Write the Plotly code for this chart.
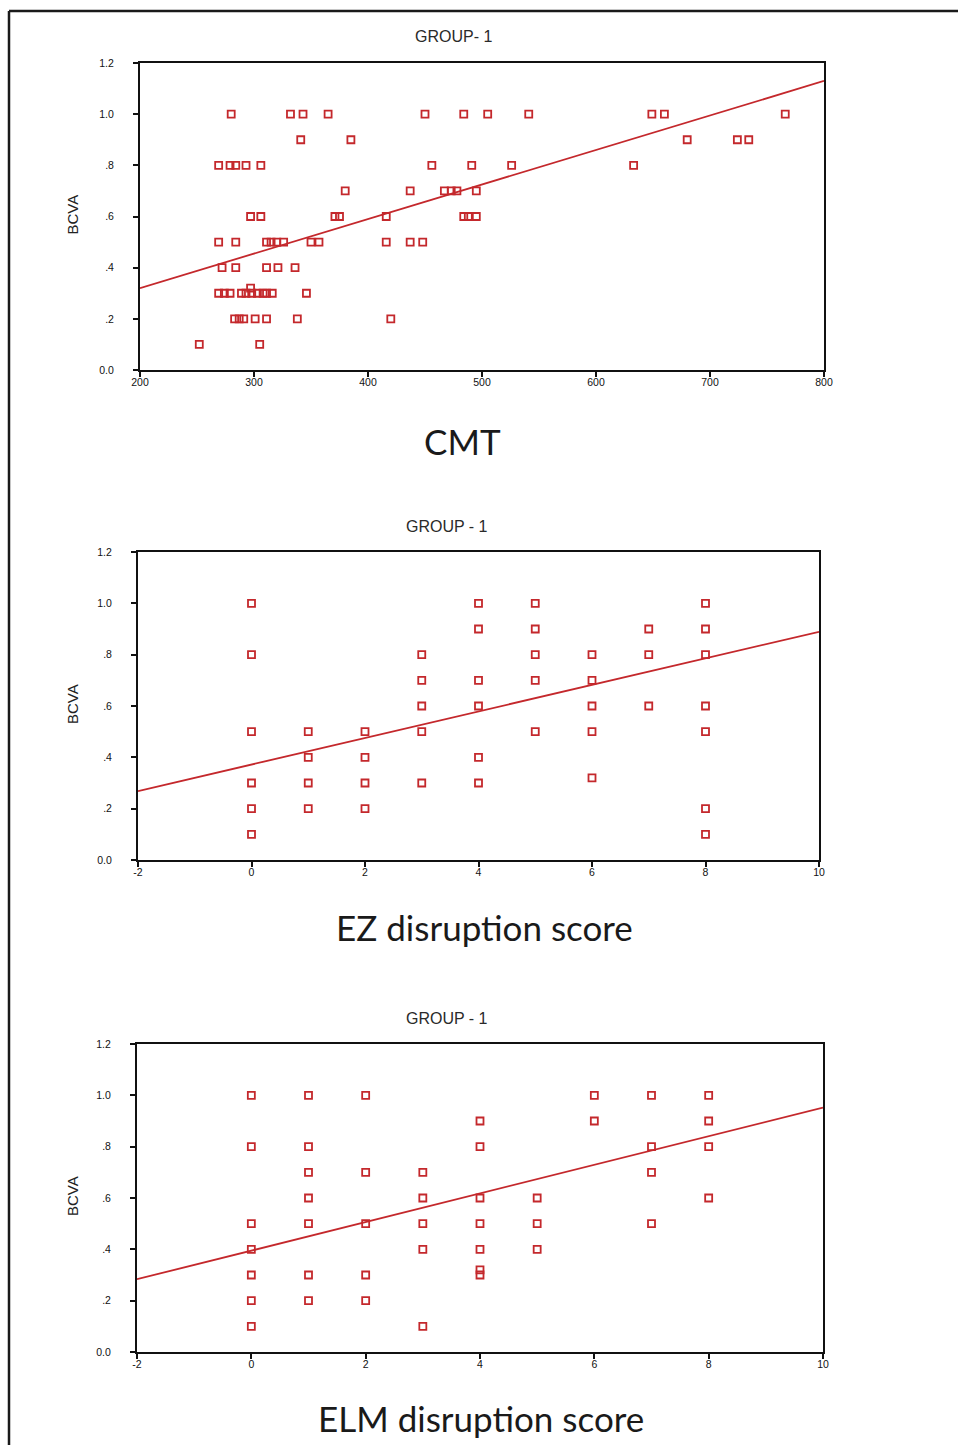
import plotly.graph_objects as go

# ---------------- data ----------------
# Panel 1: CMT vs BCVA
cmt_x = [280, 332, 343, 365, 450, 484, 505, 541, 649, 660, 766,
         341, 385, 680, 724, 734,
         269, 279, 284, 293, 306, 456, 491, 526, 633,
         380, 437, 467, 473, 478, 495,
         297, 306, 371, 375, 416, 484, 488, 495,
         269, 284, 311, 315, 320, 326, 350, 357, 416, 437, 448,
         272, 284, 311, 321, 336,
         297,
         269, 274, 279, 289, 293, 298, 303, 308, 311, 316, 346,
         283, 287, 291, 301, 311, 338, 420,
         252, 305]
cmt_y = [1.0] * 11 + [0.9] * 5 + [0.8] * 9 + [0.7] * 6 + [0.6] * 8 + \
        [0.5] * 11 + [0.4] * 5 + [0.32] + [0.3] * 11 + [0.2] * 7 + [0.1] * 2

# Panel 2: EZ disruption score vs BCVA
ez_x = [0] * 6 + [1] * 4 + [2] * 4 + [3] * 5 + [4] * 6 + [5] * 5 + [6] * 5 + [7] * 3 + [8] * 7
ez_y = [1.0, 0.8, 0.5, 0.3, 0.2, 0.1,
        0.5, 0.4, 0.3, 0.2,
        0.5, 0.4, 0.3, 0.2,
        0.8, 0.7, 0.6, 0.5, 0.3,
        1.0, 0.9, 0.7, 0.6, 0.4, 0.3,
        1.0, 0.9, 0.8, 0.7, 0.5,
        0.8, 0.7, 0.6, 0.5, 0.32,
        0.9, 0.8, 0.6,
        1.0, 0.9, 0.8, 0.6, 0.5, 0.2, 0.1]

# Panel 3: ELM disruption score vs BCVA
elm_x = [0] * 7 + [1] * 7 + [2] * 5 + [3] * 5 + [4] * 7 + [5] * 3 + [6] * 2 + [7] * 4 + [8] * 4
elm_y = [1.0, 0.8, 0.5, 0.4, 0.3, 0.2, 0.1,
         1.0, 0.8, 0.7, 0.6, 0.5, 0.3, 0.2,
         1.0, 0.7, 0.5, 0.3, 0.2,
         0.7, 0.6, 0.5, 0.4, 0.1,
         0.9, 0.8, 0.6, 0.5, 0.4, 0.32, 0.3,
         0.6, 0.5, 0.4,
         1.0, 0.9,
         1.0, 0.8, 0.7, 0.5,
         1.0, 0.9, 0.8, 0.6]

# fit lines (intercept, slope)
cmt_fit = (0.05, 0.00135)
ez_fit = (0.372, 0.0517)
elm_fit = (0.395, 0.0557)

# axis ranges & ticks
cmt_range = [200, 800]
cmt_ticks = [200, 300, 400, 500, 600, 700, 800]
score_range = [-2, 10]
score_ticks = [-2, 0, 2, 4, 6, 8, 10]
y_ticks = [0.0, 0.2, 0.4, 0.6, 0.8, 1.0, 1.2]
y_ticktext = ["0.0", ".2", ".4", ".6", ".8", "1.0", "1.2"]

titles = ["GROUP- 1", "GROUP - 1", "GROUP - 1"]
xtitles = ["CMT", "EZ disruption score", "ELM disruption score"]

# ---------------- figure ----------------
W, H = 958, 1445
RED = "#c4282c"

def fx(px):
    return px / W

def fy(py):
    return 1 - py / H

panels = [
    dict(x=cmt_x, y=cmt_y, fit=cmt_fit, rng=cmt_range, ticks=cmt_ticks,
         dom_x=(140, 824), dom_y=(63, 370), title_pos=(453, 37), xt_pos=(462, 441)),
    dict(x=ez_x, y=ez_y, fit=ez_fit, rng=score_range, ticks=score_ticks,
         dom_x=(138, 819), dom_y=(552, 860), title_pos=(447, 526), xt_pos=(485, 927)),
    dict(x=elm_x, y=elm_y, fit=elm_fit, rng=score_range, ticks=score_ticks,
         dom_x=(137, 823), dom_y=(1044, 1352), title_pos=(447, 1018), xt_pos=(481, 1418)),
]

fig = go.Figure()
annotations = []
tickfont = dict(family="Liberation Sans", size=10.5, color="#111")

for i, p in enumerate(panels):
    sfx = "" if i == 0 else str(i + 1)
    xa, ya = "x" + sfx, "y" + sfx
    fig.add_trace(go.Scatter(
        x=p["x"], y=p["y"], mode="markers", xaxis=xa, yaxis=ya,
        marker=dict(symbol="square-open", size=7, color=RED,
                    line=dict(color=RED, width=1.8)),
        hoverinfo="x+y"))
    b0, b1 = p["fit"]
    lx = p["rng"]
    fig.add_trace(go.Scatter(
        x=lx, y=[b0 + b1 * v for v in lx], mode="lines", xaxis=xa, yaxis=ya,
        line=dict(color=RED, width=1.8), hoverinfo="skip"))

    axis_common = dict(showline=True, mirror=True, linecolor="#111", linewidth=2,
                       showgrid=False, zeroline=False, ticks="outside", ticklen=5,
                       tickwidth=1.5, tickcolor="#111", tickfont=tickfont,
                       automargin=False)
    fig.update_layout(**{
        "xaxis" + sfx: dict(domain=[fx(p["dom_x"][0]), fx(p["dom_x"][1])],
                            range=p["rng"], tickvals=p["ticks"],
                            ticktext=[str(t) for t in p["ticks"]],
                            anchor=ya, ticklabelstandoff=-4, **axis_common),
        "yaxis" + sfx: dict(domain=[fy(p["dom_y"][1]), fy(p["dom_y"][0])],
                            range=[0, 1.2], tickvals=y_ticks, ticktext=y_ticktext,
                            anchor=xa, ticklabelstandoff=17, **axis_common),
    })

    tx, ty = p["title_pos"]
    annotations.append(dict(text=titles[i], x=fx(tx), y=fy(ty), xref="paper", yref="paper",
                            showarrow=False, xanchor="center", yanchor="middle",
                            font=dict(family="Liberation Sans", size=16, color="#2a2a2a")))
    ax_, ay_ = p["xt_pos"]
    annotations.append(dict(text=xtitles[i], x=fx(ax_), y=fy(ay_), xref="paper", yref="paper",
                            showarrow=False, xanchor="center", yanchor="middle",
                            font=dict(family="Lato", size=35, color="#1a1a1a")))
    cy = (p["dom_y"][0] + p["dom_y"][1]) / 2
    annotations.append(dict(text="BCVA", x=fx(72), y=fy(cy - 2), xref="paper", yref="paper",
                            showarrow=False, textangle=-90, xanchor="center", yanchor="middle",
                            font=dict(family="Liberation Sans", size=15, color="#222")))

shapes = [
    dict(type="line", xref="paper", yref="paper", x0=fx(9), x1=1.0, y0=fy(11), y1=fy(11),
         line=dict(color="#1a1a1a", width=2.5)),
    dict(type="line", xref="paper", yref="paper", x0=fx(9), x1=fx(9), y0=fy(11), y1=0,
         line=dict(color="#1a1a1a", width=2.5)),
]

fig.update_layout(width=W, height=H, margin=dict(l=0, r=0, t=0, b=0, pad=0, autoexpand=False),
                  paper_bgcolor="white", plot_bgcolor="white", showlegend=False,
                  annotations=annotations, shapes=shapes)

fig.write_html("out.html", config={"displayModeBar": False},
               post_script="document.body.style.margin='0';document.body.style.overflow='hidden';")
